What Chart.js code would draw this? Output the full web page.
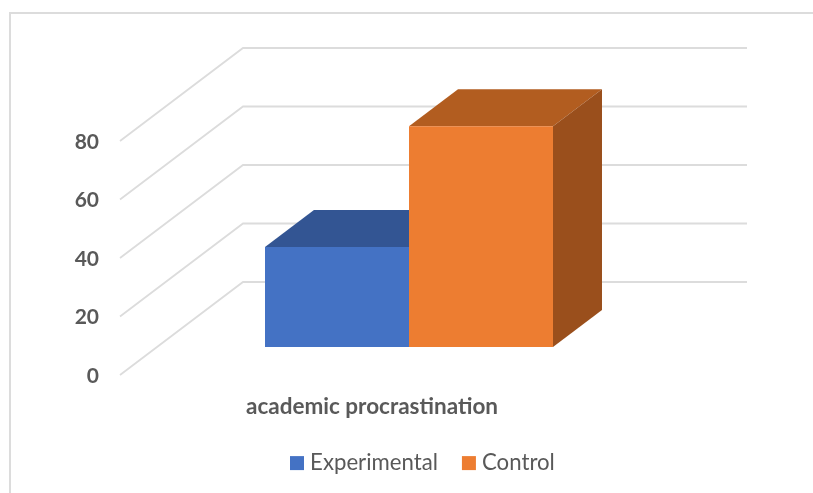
<!DOCTYPE html>
<html><head><meta charset="utf-8">
<style>
html,body{margin:0;padding:0;background:#fff;overflow:hidden;width:813px;height:493px}
#frame{position:absolute;left:9px;top:12px;width:900px;height:600px;border:2px solid #dcdcdc}
canvas{position:absolute;left:0;top:0}
</style>
<script src="https://cdn.jsdelivr.net/npm/chart.js@4"></script>
</head><body>
<div id="frame"></div>
<canvas id="c" width="813" height="493"></canvas>
<script>
const categories = ["academic procrastination"];
const experimental = [34.2];
const control = [75.5];
const yTicks = [0, 20, 40, 60, 80];

const TEXT = "#595959", GRID = "#dcdcdc";
const wallDX = 123, wallDY = -93;      // floor depth of the chart box
const barShiftX = 37, barShiftY = -28; // bars stand inside the box
const barDX = 49, barDY = -37;         // depth of each bar
const faces = [
  {top:"#335593", side:null},          // its side is hidden by the taller neighbour
  {top:"#b25d20", side:"#9a4f1c"}
];

const box3d = {
  id:"box3d",
  afterLayout(chart){
    const l = chart.legend, pad = l.options.labels.padding;
    l.left = 295 - pad;
    l.right = l.left + 500;
    l.top = 465 - pad - 13;
  },
  beforeDatasetsDraw(chart){
    const {ctx, chartArea:a, scales:{y}} = chart;
    ctx.save();
    ctx.strokeStyle = GRID; ctx.lineWidth = 1.8; ctx.lineJoin = "miter";
    for (const v of yTicks){
      const p = y.getPixelForValue(v);
      ctx.beginPath();
      ctx.moveTo(a.left, p);
      ctx.lineTo(a.left + wallDX, p + wallDY);
      ctx.lineTo(a.right + wallDX, p + wallDY);
      ctx.stroke();
    }
    ctx.restore();
  },
  beforeDatasetDraw(chart, args){
    const ctx = chart.ctx, f = faces[args.index];
    ctx.save();
    ctx.translate(barShiftX, barShiftY);
    for (const el of args.meta.data){
      const l = el.x - el.width/2, r = el.x + el.width/2, t = el.y, b = el.base;
      ctx.save();
      if (!f.side){ ctx.beginPath(); ctx.rect(l, t+barDY, r-l, b-t-barDY); ctx.clip(); }
      ctx.fillStyle = f.top;
      ctx.beginPath(); ctx.moveTo(l,t); ctx.lineTo(l+barDX,t+barDY); ctx.lineTo(r+barDX,t+barDY); ctx.lineTo(r,t); ctx.closePath(); ctx.fill();
      ctx.restore();
      if (f.side){
        ctx.fillStyle = f.side;
        ctx.beginPath(); ctx.moveTo(r,t); ctx.lineTo(r+barDX,t+barDY); ctx.lineTo(r+barDX,b+barDY); ctx.lineTo(r,b); ctx.closePath(); ctx.fill();
      }
    }
  },
  afterDatasetDraw(chart){ chart.ctx.restore(); }
};

new Chart(document.getElementById("c"), {
  type:"bar",
  data:{labels:categories, datasets:[
    {label:"Experimental", data:experimental, backgroundColor:"#4472c4", clip:false},
    {label:"Control", data:control, backgroundColor:"#ed7d31", clip:false}
  ]},
  plugins:[box3d],
  options:{
    responsive:false, animation:false,
    layout:{padding:{top:141, right:189, left:0, bottom:0}},
    categoryPercentage:0.5714, barPercentage:1,
    plugins:{
      tooltip:{enabled:false},
      legend:{position:"bottom", align:"start",
        labels:{boxWidth:4, boxHeight:4, padding:29, color:TEXT,
          font:{family:"Lato", size:22.2},
          generateLabels(chart){
            return Chart.defaults.plugins.legend.labels.generateLabels(chart).map(i =>
              Object.assign(i, {strokeStyle:i.fillStyle, lineWidth:10}));
          }}}
    },
    scales:{
      x:{grid:{display:false}, border:{display:false},
         ticks:{padding:10, color:TEXT, font:{family:"Lato", size:22.5, weight:"bold"}},
         afterFit(s){ s.height = 118 - (s.chart.legend ? s.chart.legend.height : 0); }},
      y:{min:0, max:80, grid:{display:false, drawTicks:false}, border:{display:false},
         ticks:{stepSize:20, padding:21, labelOffset:1, color:TEXT, font:{family:"Lato", size:21, weight:"bold"}},
         afterFit(s){ s.width = 120; }}
    }
  }
});
</script>
</body></html>
